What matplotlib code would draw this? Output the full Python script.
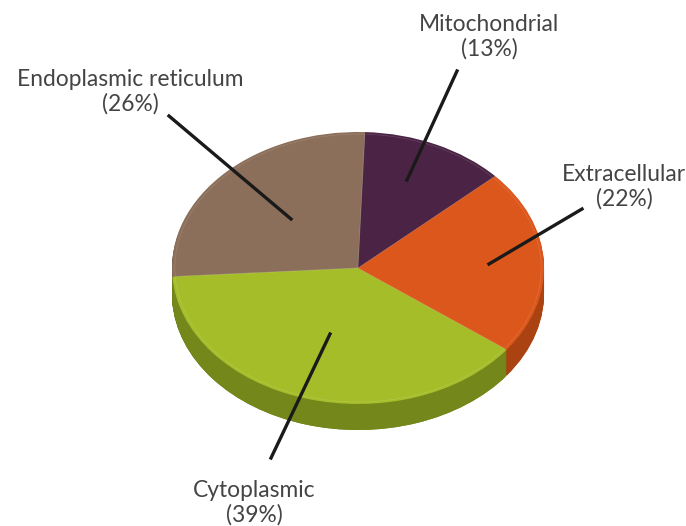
import matplotlib
matplotlib.use('Agg')
import matplotlib.pyplot as plt
import numpy as np
from matplotlib.path import Path
from matplotlib.transforms import Affine2D

labels = ['Mitochondrial', 'Endoplasmic reticulum', 'Cytoplasmic', 'Extracellular']
values = [12.6, 26.6, 38.75, 22.05]
shown = [13, 26, 39, 22]
top_colors = ['#4b2445', '#8b6f5a', '#a6bd2a', '#dc571c']
side_colors = ['#2f1629', '#5c4a3b', '#73871a', '#ab4211']

# pixel geometry of the reference
W, H = 686, 526
cx, cy, rx, ry = 358, 268, 186, 136
depth = 26
start = 42.5

plt.rcParams['font.family'] = ['Lato', 'DejaVu Sans']

fig = plt.figure(figsize=(W / 100, H / 100), dpi=100)
ax = fig.add_axes([0, 0, 1, 1])


def stretch(wedges, offset, scale=1.0):
    # squash the round pie into an ellipse, in pixel coordinates (y points down)
    t = Affine2D().scale(rx * scale, -ry * scale).translate(cx, cy + offset)
    for w in wedges:
        w.set_transform(t + ax.transData)


side_paths = []
for off in range(depth, 0, -1):
    side, _ = ax.pie(values, colors=side_colors, startangle=start)
    stretch(side, off)
    t = Affine2D().scale(rx, -ry).translate(cx, cy + off)
    side_paths.append(side[2].get_path().transformed(t))

top, _ = ax.pie(values, colors=top_colors, startangle=start)
stretch(top, 0)

# faint bevel line just inside the rim
rim, _ = ax.pie(values, colors=['none'] * 4, startangle=start,
                wedgeprops={'edgecolor': 'white', 'linewidth': 0.5, 'alpha': 0.14})
stretch(rim, 0, 0.985)

ax.set_aspect('auto')
ax.set_xlim(0, W)
ax.set_ylim(H, 0)
ax.axis('off')

# the green side gets lighter towards the right
shade = np.linspace(0, 1, 256).reshape(1, -1)
cmap = matplotlib.colors.LinearSegmentedColormap.from_list('g', ['#6b7e15', '#6f8318', '#88a021'])
im = ax.imshow(shade, cmap=cmap, extent=(170, 505, 430, 270), aspect='auto', zorder=top[0].get_zorder() - 0.5)
im.set_clip_path(Path.make_compound_path(*side_paths), ax.transData)
for w in top + rim:
    w.set_zorder(im.get_zorder() + 1)
ax.set_xlim(0, W)
ax.set_ylim(H, 0)

text_pos = [(489, 37), (130, 92), (254, 503), (624, 187)]
line_pos = [((457, 71), (407, 180)), ((169, 116), (291, 219)),
            ((271, 458), (330, 334)), ((582, 209), (489, 264))]
for lab, v, tp, lp in zip(labels, shown, text_pos, line_pos):
    ax.text(tp[0], tp[1], f'{lab}\n({v}%)', ha='center', va='center', fontsize=16.4,
            color='#444444', linespacing=1.17, zorder=10)
    ax.plot([lp[0][0], lp[1][0]], [lp[0][1], lp[1][1]], color='#1a1a1a', lw=2.4, zorder=9)

fig.savefig('out.png', dpi=100)
